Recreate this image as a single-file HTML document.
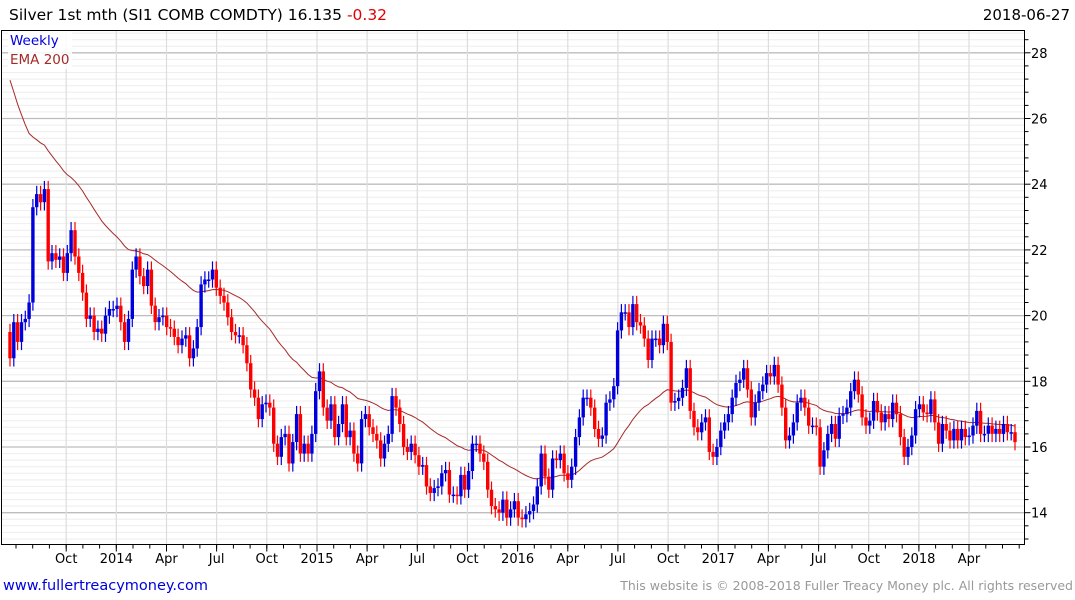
<!DOCTYPE html>
<html><head><meta charset="utf-8">
<style>
html,body{margin:0;padding:0;background:#fff;}
body{width:1075px;height:600px;overflow:hidden;font-family:"DejaVu Sans","Liberation Sans",sans-serif;}
svg{display:block;}
</style></head>
<body>
<svg id="chart" width="1075" height="600" xmlns="http://www.w3.org/2000/svg">
<text x="9" y="20" font-size="15.5" fill="#000" font-family="DejaVu Sans, sans-serif">Silver 1st mth (SI1 COMB COMDTY) 16.135 <tspan fill="#e00000">-0.32</tspan></text>
<text x="1070" y="20" font-size="15" text-anchor="end" fill="#000" font-family="DejaVu Sans, sans-serif">2018-06-27</text>
<g id="grid"></g>
<g id="ema"></g>
<g id="candles"></g>
<rect x="8" y="31" width="64" height="38" fill="#fff" opacity="0.85"/>
<text x="10" y="45" font-size="13.5" fill="#0000dd">Weekly</text>
<text x="10" y="64" font-size="13.5" fill="#a52a2a">EMA 200</text>
<rect x="1.5" y="30.5" width="1023" height="514" fill="none" stroke="#000" stroke-width="1"/>
<g id="axes"></g>
<text x="3" y="590" font-size="14.5" fill="#0000dd">www.fullertreacymoney.com</text>
<text x="1073" y="590" font-size="12.5" fill="#999" text-anchor="end">This website is © 2008-2018 Fuller Treacy Money plc. All rights reserved</text>
</svg>
<script>
// weekly closes, mid-Jun 2013 .. late Jun 2018
const closes = [18.7,19.8,19.2,19.8,19.9,20.4,23.3,23.7,23.45,23.85,21.65,21.9,21.7,21.8,21.3,21.9,22.6,21.8,21.3,20.7,19.9,20.0,19.5,19.6,19.45,20.0,20.2,20.2,20.3,19.8,19.2,19.9,21.4,21.8,21.2,20.9,21.4,20.3,19.8,19.95,20.0,19.65,19.6,19.35,19.1,19.3,19.4,18.7,19.0,19.65,20.95,21.1,21.1,21.4,20.85,20.6,20.4,19.95,19.5,19.4,19.4,19.1,18.55,17.75,17.5,16.85,17.3,17.35,17.2,16.1,15.7,16.3,16.4,15.5,16.15,17.0,15.8,16.1,15.8,16.4,17.7,18.3,17.2,16.8,17.3,16.3,
16.7,17.3,16.3,16.5,15.8,15.5,16.85,17.0,16.6,16.4,16.2,15.65,16.1,16.4,17.55,17.2,16.7,16.0,15.85,16.1,15.75,15.4,15.45,14.8,14.6,14.75,14.8,15.2,15.3,14.55,14.55,14.5,15.15,14.7,15.27,16.1,16.1,15.8,15.55,14.7,14.2,14.1,14.0,14.4,13.85,14.1,14.35,13.85,13.8,13.95,14.05,14.25,14.8,15.8,15.1,14.7,15.65,15.6,15.8,15.2,15.0,15.4,16.3,16.9,17.5,17.5,17.2,16.55,16.25,16.35,17.35,17.45,17.85,19.55,20.1,20.1,19.65,20.35,19.8,19.7,19.3,18.65,19.3,19.3,19.1,19.75,19.2,17.35,17.4,17.5,17.8,
18.4,17.1,16.6,16.45,16.75,16.9,15.85,15.7,16.0,16.5,16.75,17.0,17.5,17.95,18.05,18.4,17.75,16.9,17.35,17.7,17.9,18.25,18.15,18.5,17.9,17.2,16.2,16.35,16.75,17.35,17.5,17.2,16.65,16.65,16.6,15.4,15.9,16.4,16.7,16.25,16.95,17.0,17.2,17.7,18.05,17.6,16.9,16.65,16.8,17.4,17.05,16.75,17.0,16.85,17.35,17.0,16.3,15.7,16.0,16.35,17.15,17.3,17.05,17.0,17.45,16.75,16.1,16.7,16.5,16.2,16.55,16.2,16.55,16.3,16.35,16.65,17.1,16.4,16.4,16.65,16.4,16.55,16.4,16.7,16.45,16.45,16.15];
const firstOpen = 19.5;
const yTicks = [14,16,18,20,22,24,26,28];
const xTickLabels = ["Oct","2014","Apr","Jul","Oct","2015","Apr","Jul","Oct","2016","Apr","Jul","Oct","2017","Apr","Jul","Oct","2018","Apr"];
const xTickMonths = [3,6,9,12,15,18,21,24,27,30,33,36,39,42,45,48,51,54,57]; // months since Jul 2013
const emaSeed = 27.6;
const emaPeriod = 40;

const NS="http://www.w3.org/2000/svg";
const L=1.5,R=1024.5,T=30.5,B=544.5;
function y(v){return 447-(v-16)*32.85;}
function xm(m){return 16+m*16.72;}
const x0=10,x1=1015;
function xi(i){return x0+(x1-x0)*i/(closes.length-1);}
function mk(tag,attrs,parent){const e=document.createElementNS(NS,tag);for(const k in attrs)e.setAttribute(k,attrs[k]);parent.appendChild(e);return e;}

const grid=document.getElementById('grid'), axes=document.getElementById('axes');
for(let v=13.0;v<=28.6;v+=0.2){
  const yy=y(v); if(yy<T||yy>B) continue;
  const major=Math.abs(v-Math.round(v))<0.01 && Math.round(v)%2===0;
  if(major) continue;
  const ln=mk('line',{x1:L,x2:R,y1:yy.toFixed(1),y2:yy.toFixed(1),stroke:'#eeeeee','stroke-width':1},grid);
  
  
  if(Math.abs(v*5-Math.round(v*5))<0.01 && Math.round(v*5)%2===0){
    const t=mk('line',{x1:R,x2:R+4,y1:yy.toFixed(1),y2:yy.toFixed(1),stroke:'#000'},axes);
    
    
  }
}
for(let m=-1;m<=61;m++){
  const xx=xm(m); if(xx<L||xx>R) continue;
  const t=mk('line',{x1:xx.toFixed(1),x2:xx.toFixed(1),y1:B,y2:B+4,stroke:'#000'},axes);
  
  
}
yTicks.forEach(v=>{
  const yy=y(v);
  const ln=mk('line',{x1:L,x2:R,y1:yy.toFixed(1),y2:yy.toFixed(1),stroke:'#bdbdbd','stroke-width':1.3},grid);
  
  
  const t=mk('line',{x1:R,x2:R+6,y1:yy.toFixed(1),y2:yy.toFixed(1),stroke:'#000'},axes);
  
  
  const tx=mk('text',{x:1031,y:(yy+5).toFixed(1),'font-size':13,fill:'#000'},axes);
  
  
  tx.textContent=v;
});
xTickMonths.forEach((m,k)=>{
  const xx=xm(m);
  const ln=mk('line',{x1:xx.toFixed(1),x2:xx.toFixed(1),y1:T,y2:B,stroke:'#dddddd','stroke-width':1.2},grid);
  
  
  const t=mk('line',{x1:xx.toFixed(1),x2:xx.toFixed(1),y1:B,y2:B+7,stroke:'#000'},axes);
  
  
  const tx=mk('text',{x:xx.toFixed(1),y:563,'font-size':13,fill:'#000','text-anchor':'middle'},axes);
  
  
  tx.textContent=xTickLabels[k];
});

const a=2/(emaPeriod+1); let e=emaSeed; const pts=[];
closes.forEach((c,i)=>{e=e+a*(c-e);pts.push(xi(i).toFixed(1)+','+y(e).toFixed(1));});
const pl=mk('polyline',{points:pts.join(' '),fill:'none',stroke:'#a52a2a','stroke-width':1},document.getElementById('ema'));



const cg=document.getElementById('candles');
const wick=0.25;
closes.forEach((c,i)=>{
  const o=i===0?firstOpen:closes[i-1];
  const up=c>=o, col=up?'#0000dd':'#ff0000';
  const xx=xi(i);
  const hi=Math.max(o,c)+wick, lo=Math.min(o,c)-wick;
  const w=mk('line',{x1:xx.toFixed(1),x2:xx.toFixed(1),y1:y(hi).toFixed(1),y2:y(lo).toFixed(1),stroke:col,'stroke-width':1.2},cg);
  
  
  const top=y(Math.max(o,c)), h=Math.max(1.5,y(Math.min(o,c))-top);
  const b=mk('rect',{x:(xx-1.7).toFixed(1),y:top.toFixed(1),width:3.4,height:h.toFixed(1),fill:col},cg);
  
  
});
</script>
</body></html>
